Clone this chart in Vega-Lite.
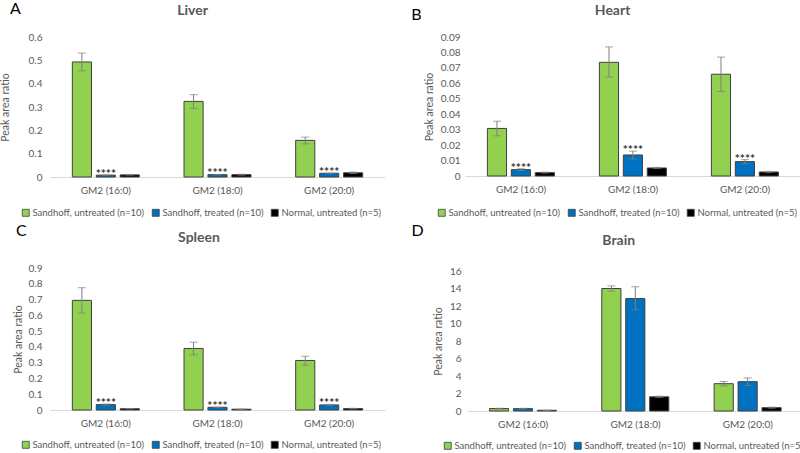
{
  "$schema": "https://vega.github.io/schema/vega-lite/v6.json",
  "background": "white",
  "padding": {"left": 0, "top": 1, "right": 0, "bottom": 0},
  "data": {"values": [
    {"organ": "Liver", "gm2": "GM2 (16:0)", "grp": "Sandhoff, untreated (n=10)", "v": 0.493, "lo": 0.455, "hi": 0.531, "sig": ""},
    {"organ": "Liver", "gm2": "GM2 (16:0)", "grp": "Sandhoff, treated (n=10)", "v": 0.008, "lo": 0.007, "hi": 0.009, "sig": "****"},
    {"organ": "Liver", "gm2": "GM2 (16:0)", "grp": "Normal, untreated (n=5)", "v": 0.009, "lo": 0.008, "hi": 0.011, "sig": ""},
    {"organ": "Liver", "gm2": "GM2 (18:0)", "grp": "Sandhoff, untreated (n=10)", "v": 0.324, "lo": 0.294, "hi": 0.353, "sig": ""},
    {"organ": "Liver", "gm2": "GM2 (18:0)", "grp": "Sandhoff, treated (n=10)", "v": 0.010, "lo": 0.009, "hi": 0.011, "sig": "****"},
    {"organ": "Liver", "gm2": "GM2 (18:0)", "grp": "Normal, untreated (n=5)", "v": 0.010, "lo": 0.008, "hi": 0.012, "sig": ""},
    {"organ": "Liver", "gm2": "GM2 (20:0)", "grp": "Sandhoff, untreated (n=10)", "v": 0.157, "lo": 0.142, "hi": 0.171, "sig": ""},
    {"organ": "Liver", "gm2": "GM2 (20:0)", "grp": "Sandhoff, treated (n=10)", "v": 0.016, "lo": 0.015, "hi": 0.017, "sig": "****"},
    {"organ": "Liver", "gm2": "GM2 (20:0)", "grp": "Normal, untreated (n=5)", "v": 0.018, "lo": 0.015, "hi": 0.021, "sig": ""},
    {"organ": "Heart", "gm2": "GM2 (16:0)", "grp": "Sandhoff, untreated (n=10)", "v": 0.0308, "lo": 0.0260, "hi": 0.0355, "sig": ""},
    {"organ": "Heart", "gm2": "GM2 (16:0)", "grp": "Sandhoff, treated (n=10)", "v": 0.0041, "lo": 0.0035, "hi": 0.0047, "sig": "****"},
    {"organ": "Heart", "gm2": "GM2 (16:0)", "grp": "Normal, untreated (n=5)", "v": 0.0022, "lo": 0.0019, "hi": 0.0025, "sig": ""},
    {"organ": "Heart", "gm2": "GM2 (18:0)", "grp": "Sandhoff, untreated (n=10)", "v": 0.0736, "lo": 0.0640, "hi": 0.0836, "sig": ""},
    {"organ": "Heart", "gm2": "GM2 (18:0)", "grp": "Sandhoff, treated (n=10)", "v": 0.0136, "lo": 0.0110, "hi": 0.0161, "sig": "****"},
    {"organ": "Heart", "gm2": "GM2 (18:0)", "grp": "Normal, untreated (n=5)", "v": 0.0052, "lo": 0.0048, "hi": 0.0056, "sig": ""},
    {"organ": "Heart", "gm2": "GM2 (20:0)", "grp": "Sandhoff, untreated (n=10)", "v": 0.0659, "lo": 0.0547, "hi": 0.0770, "sig": ""},
    {"organ": "Heart", "gm2": "GM2 (20:0)", "grp": "Sandhoff, treated (n=10)", "v": 0.0093, "lo": 0.0079, "hi": 0.0106, "sig": "****"},
    {"organ": "Heart", "gm2": "GM2 (20:0)", "grp": "Normal, untreated (n=5)", "v": 0.0026, "lo": 0.0022, "hi": 0.0030, "sig": ""},
    {"organ": "Spleen", "gm2": "GM2 (16:0)", "grp": "Sandhoff, untreated (n=10)", "v": 0.695, "lo": 0.615, "hi": 0.775, "sig": ""},
    {"organ": "Spleen", "gm2": "GM2 (16:0)", "grp": "Sandhoff, treated (n=10)", "v": 0.034, "lo": 0.030, "hi": 0.038, "sig": "****"},
    {"organ": "Spleen", "gm2": "GM2 (16:0)", "grp": "Normal, untreated (n=5)", "v": 0.008, "lo": 0.007, "hi": 0.009, "sig": ""},
    {"organ": "Spleen", "gm2": "GM2 (18:0)", "grp": "Sandhoff, untreated (n=10)", "v": 0.390, "lo": 0.350, "hi": 0.430, "sig": ""},
    {"organ": "Spleen", "gm2": "GM2 (18:0)", "grp": "Sandhoff, treated (n=10)", "v": 0.017, "lo": 0.015, "hi": 0.019, "sig": "****"},
    {"organ": "Spleen", "gm2": "GM2 (18:0)", "grp": "Normal, untreated (n=5)", "v": 0.005, "lo": 0.004, "hi": 0.006, "sig": ""},
    {"organ": "Spleen", "gm2": "GM2 (20:0)", "grp": "Sandhoff, untreated (n=10)", "v": 0.314, "lo": 0.284, "hi": 0.341, "sig": ""},
    {"organ": "Spleen", "gm2": "GM2 (20:0)", "grp": "Sandhoff, treated (n=10)", "v": 0.032, "lo": 0.028, "hi": 0.036, "sig": "****"},
    {"organ": "Spleen", "gm2": "GM2 (20:0)", "grp": "Normal, untreated (n=5)", "v": 0.009, "lo": 0.007, "hi": 0.011, "sig": ""},
    {"organ": "Brain", "gm2": "GM2 (16:0)", "grp": "Sandhoff, untreated (n=10)", "v": 0.28, "lo": 0.24, "hi": 0.32, "sig": ""},
    {"organ": "Brain", "gm2": "GM2 (16:0)", "grp": "Sandhoff, treated (n=10)", "v": 0.27, "lo": 0.23, "hi": 0.31, "sig": ""},
    {"organ": "Brain", "gm2": "GM2 (16:0)", "grp": "Normal, untreated (n=5)", "v": 0.08, "lo": 0.06, "hi": 0.10, "sig": ""},
    {"organ": "Brain", "gm2": "GM2 (18:0)", "grp": "Sandhoff, untreated (n=10)", "v": 14.0, "lo": 13.7, "hi": 14.3, "sig": ""},
    {"organ": "Brain", "gm2": "GM2 (18:0)", "grp": "Sandhoff, treated (n=10)", "v": 12.85, "lo": 11.55, "hi": 14.2, "sig": ""},
    {"organ": "Brain", "gm2": "GM2 (18:0)", "grp": "Normal, untreated (n=5)", "v": 1.62, "lo": 1.55, "hi": 1.69, "sig": ""},
    {"organ": "Brain", "gm2": "GM2 (20:0)", "grp": "Sandhoff, untreated (n=10)", "v": 3.12, "lo": 2.86, "hi": 3.38, "sig": ""},
    {"organ": "Brain", "gm2": "GM2 (20:0)", "grp": "Sandhoff, treated (n=10)", "v": 3.35, "lo": 2.90, "hi": 3.78, "sig": ""},
    {"organ": "Brain", "gm2": "GM2 (20:0)", "grp": "Normal, untreated (n=5)", "v": 0.38, "lo": 0.32, "hi": 0.44, "sig": ""}
  ]},
  "config": {
    "font": "Lato",
    "view": {"stroke": null},
    "axis": {"labelFont": "Lato", "titleFont": "Lato", "labelColor": "#595959", "labelFontSize": 10, "titleColor": "#595959", "titleFontWeight": "normal", "titleFontSize": 10.5, "grid": false, "ticks": false, "labelOverlap": false},
    "axisX": {"domainColor": "#d9d9d9", "labelPadding": 8, "labelAngle": 0},
    "axisY": {"domain": false, "labelPadding": 8, "titlePadding": 6, "tickCount": 20},
    "title": {"color": "#595959", "fontSize": 14, "fontWeight": "bold", "font": "Lato"},
    "legend": {"symbolType": "square", "symbolSize": 49, "symbolStrokeColor": "#404040", "symbolStrokeWidth": 0.8, "labelFontSize": 9.5, "labelColor": "#595959", "labelFont": "Lato", "columnPadding": 5, "labelOffset": 2, "labelLimit": 300, "padding": 0, "direction": "horizontal", "orient": "none", "title": null}
  },
  "resolve": {"scale": {"color": "independent"}},
  "columns": 2,
  "align": "none",
  "spacing": {"row": 5, "column": 26},
  "concat": [
    {
      "title": {"text": "A", "anchor": "start", "fontSize": 16, "fontWeight": "normal", "color": "#000000", "dx": 10, "dy": 13, "offset": 0},
      "resolve": {"scale": {"color": "independent"}},
      "vconcat": [{
        "width": 335, "height": 140,
        "title": {"text": "Liver", "offset": 14, "frame": "bounds"},
        "transform": [{"filter": "datum.organ === 'Liver'"}],
        "encoding": {
          "x": {"field": "gm2", "type": "nominal", "sort": null, "title": null, "scale": {"paddingInner": 0.4, "paddingOuter": 0.2}},
          "xOffset": {"field": "grp", "type": "nominal", "sort": null, "scale": {"paddingInner": 0.2}}
        },
        "layer": [
          {"mark": {"type": "bar", "stroke": "#404040", "strokeWidth": 1}, "encoding": {
            "y": {"field": "v", "type": "quantitative", "title": "Peak area ratio", "scale": {"domain": [0, 0.6]}, "axis": {"values": [0, 0.1, 0.2, 0.3, 0.4, 0.5, 0.6], "format": "~g", "tickCount": 20, "titlePadding": 18}},
            "color": {"field": "grp", "type": "nominal", "sort": null, "scale": {"domain": ["Sandhoff, untreated (n=10)", "Sandhoff, treated (n=10)", "Normal, untreated (n=5)"], "range": ["#92D050", "#0070C0", "#000000"]}, "legend": {"legendX": -29, "legendY": 171}}
          }},
          {"mark": {"type": "rule", "color": "#7f7f7f"}, "encoding": {"y": {"field": "lo", "type": "quantitative"}, "y2": {"field": "hi"}}},
          {"mark": {"type": "tick", "color": "#7f7f7f", "size": 8, "thickness": 1}, "encoding": {"y": {"field": "hi", "type": "quantitative"}}},
          {"mark": {"type": "tick", "color": "#7f7f7f", "size": 8, "thickness": 1}, "encoding": {"y": {"field": "lo", "type": "quantitative"}}},
          {"transform": [{"filter": "datum.sig !== ''"}], "mark": {"type": "text", "fontSize": 12, "fontWeight": "bold", "color": "#333333", "baseline": "alphabetic", "dy": 3}, "encoding": {"y": {"field": "hi", "type": "quantitative"}, "text": {"field": "sig"}}}
        ]
      }]
    },
    {
      "title": {"text": "B", "anchor": "start", "fontSize": 16, "fontWeight": "normal", "color": "#000000", "dx": -13, "dy": 19, "offset": 0},
      "resolve": {"scale": {"color": "independent"}},
      "vconcat": [{
        "width": 336, "height": 139,
        "title": {"text": "Heart", "offset": 14, "frame": "bounds"},
        "transform": [{"filter": "datum.organ === 'Heart'"}],
        "encoding": {
          "x": {"field": "gm2", "type": "nominal", "sort": null, "title": null, "scale": {"paddingInner": 0.4, "paddingOuter": 0.2}},
          "xOffset": {"field": "grp", "type": "nominal", "sort": null, "scale": {"paddingInner": 0.2}}
        },
        "layer": [
          {"mark": {"type": "bar", "stroke": "#404040", "strokeWidth": 1}, "encoding": {
            "y": {"field": "v", "type": "quantitative", "title": "Peak area ratio", "scale": {"domain": [0, 0.09]}, "axis": {"values": [0, 0.01, 0.02, 0.03, 0.04, 0.05, 0.06, 0.07, 0.08, 0.09], "format": "~g", "labelPadding": 5, "tickCount": 20}},
            "color": {"field": "grp", "type": "nominal", "sort": null, "scale": {"domain": ["Sandhoff, untreated (n=10)", "Sandhoff, treated (n=10)", "Normal, untreated (n=5)"], "range": ["#92D050", "#0070C0", "#000000"]}, "legend": {"legendX": -28, "legendY": 171}}
          }},
          {"mark": {"type": "rule", "color": "#7f7f7f"}, "encoding": {"y": {"field": "lo", "type": "quantitative"}, "y2": {"field": "hi"}}},
          {"mark": {"type": "tick", "color": "#7f7f7f", "size": 8, "thickness": 1}, "encoding": {"y": {"field": "hi", "type": "quantitative"}}},
          {"mark": {"type": "tick", "color": "#7f7f7f", "size": 8, "thickness": 1}, "encoding": {"y": {"field": "lo", "type": "quantitative"}}},
          {"transform": [{"filter": "datum.sig !== ''"}], "mark": {"type": "text", "fontSize": 12, "fontWeight": "bold", "color": "#333333", "baseline": "alphabetic", "dy": 3}, "encoding": {"y": {"field": "hi", "type": "quantitative"}, "text": {"field": "sig"}}}
        ]
      }]
    },
    {
      "title": {"text": "C", "anchor": "start", "fontSize": 16, "fontWeight": "normal", "color": "#000000", "dx": 3, "dy": 8, "offset": 0},
      "resolve": {"scale": {"color": "independent"}},
      "vconcat": [{
        "width": 335, "height": 142,
        "title": {"text": "Spleen", "offset": 18, "frame": "bounds"},
        "transform": [{"filter": "datum.organ === 'Spleen'"}],
        "encoding": {
          "x": {"field": "gm2", "type": "nominal", "sort": null, "title": null, "scale": {"paddingInner": 0.4, "paddingOuter": 0.2}},
          "xOffset": {"field": "grp", "type": "nominal", "sort": null, "scale": {"paddingInner": 0.2}}
        },
        "layer": [
          {"mark": {"type": "bar", "stroke": "#404040", "strokeWidth": 1}, "encoding": {
            "y": {"field": "v", "type": "quantitative", "title": "Peak area ratio", "scale": {"domain": [0, 0.9]}, "axis": {"values": [0, 0.1, 0.2, 0.3, 0.4, 0.5, 0.6, 0.7, 0.8, 0.9], "format": "~g", "labelPadding": 8, "titlePadding": 5, "tickCount": 20}},
            "color": {"field": "grp", "type": "nominal", "sort": null, "scale": {"domain": ["Sandhoff, untreated (n=10)", "Sandhoff, treated (n=10)", "Normal, untreated (n=5)"], "range": ["#92D050", "#0070C0", "#000000"]}, "legend": {"legendX": -29, "legendY": 172}}
          }},
          {"mark": {"type": "rule", "color": "#7f7f7f"}, "encoding": {"y": {"field": "lo", "type": "quantitative"}, "y2": {"field": "hi"}}},
          {"mark": {"type": "tick", "color": "#7f7f7f", "size": 8, "thickness": 1}, "encoding": {"y": {"field": "hi", "type": "quantitative"}}},
          {"mark": {"type": "tick", "color": "#7f7f7f", "size": 8, "thickness": 1}, "encoding": {"y": {"field": "lo", "type": "quantitative"}}},
          {"transform": [{"filter": "datum.sig !== ''"}], "mark": {"type": "text", "fontSize": 12, "fontWeight": "bold", "color": "#333333", "baseline": "alphabetic", "dy": 3}, "encoding": {"y": {"field": "hi", "type": "quantitative"}, "text": {"field": "sig"}}}
        ]
      }]
    },
    {
      "title": {"text": "D", "anchor": "start", "fontSize": 16, "fontWeight": "normal", "color": "#000000", "dx": -22, "dy": 5, "offset": 0},
      "resolve": {"scale": {"color": "independent"}},
      "vconcat": [{
        "width": 337, "height": 140,
        "title": {"text": "Brain", "offset": 18, "frame": "bounds"},
        "transform": [{"filter": "datum.organ === 'Brain'"}],
        "encoding": {
          "x": {"field": "gm2", "type": "nominal", "sort": null, "title": null, "scale": {"paddingInner": 0.4, "paddingOuter": 0.2}},
          "xOffset": {"field": "grp", "type": "nominal", "sort": null, "scale": {"paddingInner": 0.2}}
        },
        "layer": [
          {"mark": {"type": "bar", "stroke": "#404040", "strokeWidth": 1}, "encoding": {
            "y": {"field": "v", "type": "quantitative", "title": "Peak area ratio", "scale": {"domain": [0, 16]}, "axis": {"values": [0, 2, 4, 6, 8, 10, 12, 14, 16], "format": "~g", "labelPadding": 6, "tickCount": 20}},
            "color": {"field": "grp", "type": "nominal", "sort": null, "scale": {"domain": ["Sandhoff, untreated (n=10)", "Sandhoff, treated (n=10)", "Normal, untreated (n=5)"], "range": ["#92D050", "#0070C0", "#000000"]}, "legend": {"legendX": -24, "legendY": 170}}
          }},
          {"mark": {"type": "rule", "color": "#7f7f7f"}, "encoding": {"y": {"field": "lo", "type": "quantitative"}, "y2": {"field": "hi"}}},
          {"mark": {"type": "tick", "color": "#7f7f7f", "size": 8, "thickness": 1}, "encoding": {"y": {"field": "hi", "type": "quantitative"}}},
          {"mark": {"type": "tick", "color": "#7f7f7f", "size": 8, "thickness": 1}, "encoding": {"y": {"field": "lo", "type": "quantitative"}}}
        ]
      }]
    }
  ]
}
